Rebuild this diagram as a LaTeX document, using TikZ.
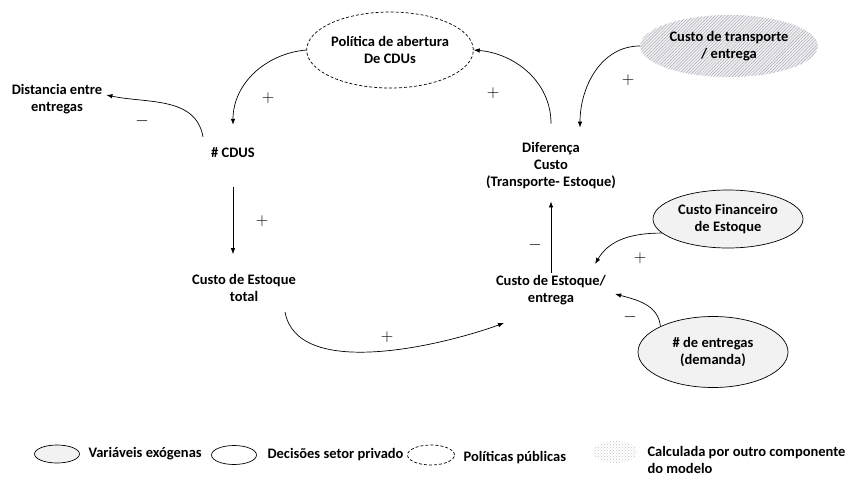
\documentclass[tikz,border=0pt]{standalone}
\usepackage{fontspec}
\setmainfont{Carlito}
\usepackage{tikz}
\usetikzlibrary{shapes.geometric}
\usetikzlibrary{patterns,patterns.meta}
\usetikzlibrary{arrows.meta}

\begin{document}
\begin{tikzpicture}[x=1pt,y=1pt,
    every node/.style={font=\fontsize{14.5}{17}\selectfont\bfseries,align=center},
    var/.style={inner sep=2pt},
    elip/.style={draw,ellipse,line width=0.7pt,inner sep=0pt},
    exo/.style={elip,fill=black!5,minimum width=150pt,minimum height=60pt},
    pub/.style={elip,dash pattern=on 3pt off 2pt,minimum width=134pt,minimum height=76pt},
    calc/.style={ellipse,fill=blue!5!gray!10,postaction={pattern={Lines[angle=45,distance=2.2pt,line width=0.45pt]},pattern color=blue!10!gray!65},minimum width=145pt,minimum height=62pt},
    sinal/.style={font=\fontsize{16}{16}\selectfont},
    seta/.style={-{Latex[length=6pt,width=4.5pt]},line width=0.7pt}]
    \useasboundingbox (0,0) rectangle (854,-479);

    \node[var] (dist) at (57,-99) {Distancia entre\\entregas};
    \node[var] (cdus) at (233,-153) {\# CDUS};
    \node[var] (cet) at (244,-288) {Custo de Estoque\\total};
    \node[var] (dif) at (551,-166) {Diferença\\Custo\\(Transporte- Estoque)};
    \node[var] (cee) at (551,-290) {Custo de Estoque/\\entrega};
    \node[pub] (pol) at (390,-50) {Política de abertura\\De CDUs};
    \node[calc] (tra) at (729,-46) {Custo de transporte\\/ entrega};
    \node[exo,minimum height=58pt] (fin) at (728,-219) {Custo Financeiro\\de Estoque};
    \node[exo,minimum height=71pt] (ent) at (713,-352) {\# de entregas\\(demanda)};

    \draw[seta] (pol.west) to[out=185,in=90] ([yshift=21pt]cdus.north);
    \draw[seta] ([shift={(-6pt,9pt)}]cdus.north west) to[out=100,in=-12] ([shift={(2pt,4pt)}]dist.east);
    \draw[seta] ([yshift=-27pt]cdus.south) -- ([shift={(-11pt,18pt)}]cet.north);
    \draw[seta] ([shift={(41pt,-8pt)}]cet.south) to[out=-80,in=200,looseness=0.8] ([shift={(-47pt,-16pt)}]cee.south);
    \draw[seta] (cee.north) -- ([yshift=-10pt]dif.south);
    \draw[seta] ([yshift=17pt]dif.north) to[out=90,in=-5] (pol.east);
    \draw[seta] (tra.west) to[out=180,in=90] ([shift={(29pt,13pt)}]dif.north);
    \draw[seta] (fin.192) to[out=180,in=60] ([shift={(-13pt,9pt)}]cee.north east);
    \draw[seta] (ent.154) to[out=95,in=-15] ([shift={(7pt,-4pt)}]cee.east);

    \foreach \n/\s/\x/\y in {1/+/268/98, 2/-/142/121, 3/+/262/221, 4/+/387/337, 5/-/535/245,
                             6/+/493/93, 7/+/628/80, 8/+/640/258, 9/-/630/317}
        \node[sinal] (s\n) at (\x,-\y) {$\s$};

    % legenda
    \node[exo,minimum width=45pt,minimum height=18pt] (lexo) at (57,-454) {};
    \node[anchor=west] (lexot) at (85,-454) {Variáveis exógenas};
    \node[elip,minimum width=45pt,minimum height=19pt] (lpri) at (234,-455) {};
    \node[anchor=west] (lprit) at (264,-455) {Decisões setor privado};
    \node[pub,minimum width=47pt,minimum height=20pt] (lpub) at (431,-455) {};
    \node[anchor=west] (lpubt) at (460,-458) {Políticas públicas};
    \node[ellipse,minimum width=44pt,minimum height=22pt,pattern=crosshatch dots,pattern color=gray!45] (lcal) at (615,-452) {};
    \node[anchor=north west,align=left] (lcalt) at (644,-443) {Calculada por outro componente\\do modelo};
\end{tikzpicture}
\end{document}
